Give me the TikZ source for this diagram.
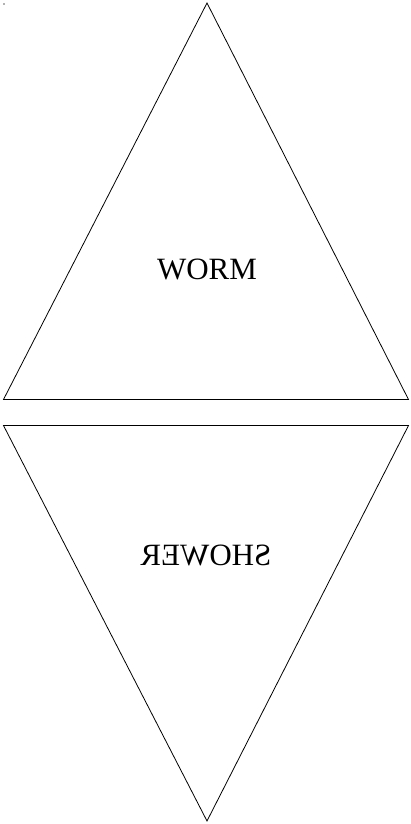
\documentclass[tikz,border=0pt]{standalone}
\usepackage{fontspec}
\setmainfont{Liberation Serif}
\begin{document}
\begin{tikzpicture}[x=1pt,y=-1pt,
  tri/.style={draw=black,line width=0.8pt,line join=miter},
  lbl/.style={font=\fontsize{31}{36}\selectfont,inner sep=0pt}]
\useasboundingbox (0,0) rectangle (410,824);
\fill[gray!60] (3,3) rectangle (5,5);
\coordinate (ta) at (207,3);
\coordinate (tl) at (3.5,399.5);
\coordinate (tr) at (408.5,399.5);
\coordinate (bl) at (3.5,425.5);
\coordinate (br) at (408.5,425.5);
\coordinate (ba) at (207,821);
\draw[tri] (ta) -- (tl) -- (tr) -- cycle;
\draw[tri] (bl) -- (br) -- (ba) -- cycle;
\node[lbl] (worm) at (207,269) {WORM};
\node[lbl,xscale=-1] (shower) at (206,555) {SHOWER};
\end{tikzpicture}
\end{document}
